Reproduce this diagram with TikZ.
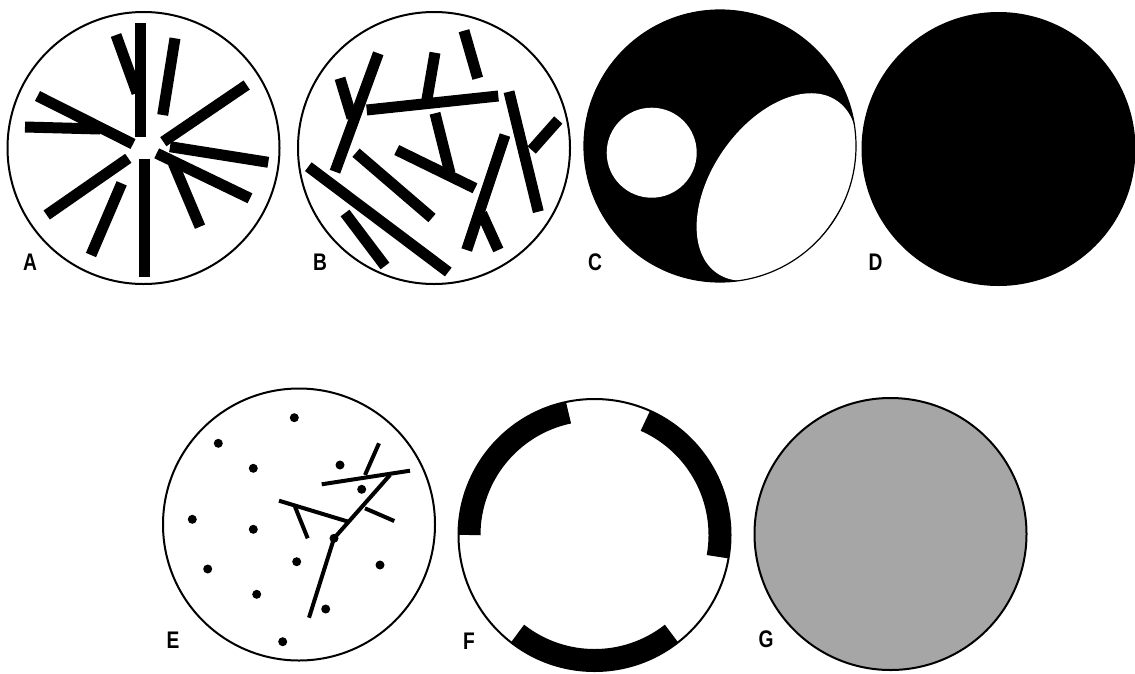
\documentclass[tikz,border=0pt]{standalone}
\usepackage{fontspec}
\setmainfont{Liberation Sans}
\usetikzlibrary{calc}
\definecolor{gfill}{RGB}{166,166,166}
\begin{document}
\begin{tikzpicture}[x=1pt,y=-1pt,
  bar/.style={line width=11pt, line cap=butt},
  fib/.style={line width=4pt, line cap=butt},
  rim/.style={line width=2pt},
  dot/.style={fill=black},
  lbl/.style={font=\bfseries\fontsize{24}{24}\selectfont, inner sep=0pt}]
\useasboundingbox (0,0) rectangle (1135,673);
\newcommand{\lab}[1]{\scalebox{0.8}[1]{#1}}
% centres
\coordinate (cA) at (143.5,148);
\coordinate (cB) at (434,148);
\coordinate (cC) at (720,146);
\coordinate (cD) at (998.5,149);
\coordinate (cE) at (299,524.5);
\coordinate (cF) at (594.5,535);
\coordinate (cG) at (890.5,534);
% ---- A ----
\draw[rim] (cA) circle[radius=136];
\draw[bar] (140.8,23.3) -- (140.8,136.7);
\draw[bar] (116,35) -- (137,93);
\draw[bar] (175,38.3) -- (162.7,115);
\draw[bar] (246.7,85) -- (163.3,141.7);
\draw[bar] (170,146.7) -- (268.3,162.3);
\draw[bar] (156.7,153.3) -- (250,198.3);
\draw[bar] (173.3,163.3) -- (200,226.7);
\draw[bar] (144.7,159.3) -- (144.7,276.7);
\draw[bar] (121.7,183.3) -- (91,255);
\draw[bar] (128.3,158.3) -- (46.7,215);
\draw[bar] (37.5,96) -- (133,144);
\draw[bar] (25,127) -- (100,129);
\node[lbl] (lA) at (30,262) {\lab{A}};
% ---- B ----
\draw[rim] (cB) circle[radius=136];
\draw[bar] (464,30.7) -- (477.7,78.3);
\draw[bar] (366.7,110) -- (498.3,96);
\draw[bar] (435,52.7) -- (426.7,101);
\draw[bar] (378.3,53.3) -- (335,171.7);
\draw[bar] (340,78.3) -- (352,118);
\draw[bar] (356,152.7) -- (432,218);
\draw[bar] (396.7,150) -- (475,188.3);
\draw[bar] (435,113.3) -- (450,173.3);
\draw[bar] (509,91.7) -- (538.3,211.7);
\draw[bar] (558.3,120) -- (531.7,150);
\draw[bar] (505,135) -- (466.7,250);
\draw[bar] (481.7,213.3) -- (498.3,250);
\draw[bar] (308.3,166.7) -- (448.3,272);
\draw[bar] (345,213) -- (385,266);
\node[lbl] (lB) at (320,262) {\lab{B}};
% ---- C ----
\fill[black] (cC) circle[radius=136];
\begin{scope}
  \clip (cC) circle[radius=136];
  \fill[white, rotate around={55:(777,187)}] (777,187) ellipse[x radius=105, y radius=65];
\end{scope}
\draw[line width=1.2pt] (cC) circle[radius=136];
\fill[white] (651.7,152.7) circle[radius=45];
\node[lbl] (lC) at (595,262) {\lab{C}};
% ---- D ----
\fill[black] (cD) circle[radius=137];
\node[lbl] (lD) at (875.5,262) {\lab{D}};
% ---- E ----
\draw[rim] (cE) circle[radius=136];
\foreach \p in {(294.3,417.7),(218.3,443.3),(253.3,468.3),(340,465),(361.7,489.3),
  (192.3,519.3),(253.3,529.3),(296.7,561.7),(380,565),(207.7,569),(256.7,594.3),
  (325.7,609),(282.7,641.7),(334,538.3)}
  \fill[dot] \p circle[radius=4.5];
\draw[fib] (321.7,484.3) -- (410,470.7);
\draw[fib] (379,443.3) -- (365,475);
\draw[fib] (390,475) -- (334,538.3);
\draw[fib] (365,508.3) -- (394.3,521);
\draw[fib] (279,500.7) -- (348.3,521.7);
\draw[fib] (295,506.7) -- (307.7,538.3);
\draw[fib] (334,538.3) -- (309,617.7);
\node[lbl] (lE) at (173,640) {\lab{E}};
% ---- F ----
\draw[line width=22pt] ($(cF)+(-102:125)$) arc[start angle=-102, end angle=-180, radius=125];
\draw[line width=22pt] ($(cF)+(10:125)$) arc[start angle=10, end angle=-66, radius=125];
\draw[line width=22pt] ($(cF)+(128:125)$) arc[start angle=128, end angle=52, radius=125];
\draw[rim] (cF) circle[radius=136];
\node[lbl] (lF) at (469,641) {\lab{F}};
% ---- G ----
\draw[rim, fill=gfill] (cG) circle[radius=136];
\node[lbl] (lG) at (766,639) {\lab{G}};
\end{tikzpicture}
\end{document}
